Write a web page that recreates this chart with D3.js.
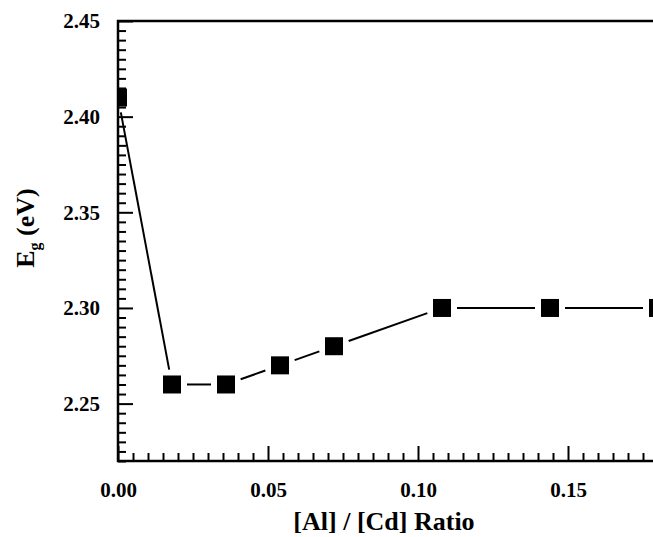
<!DOCTYPE html>
<html>
<head>
<meta charset="utf-8">
<script src="https://cdn.jsdelivr.net/npm/d3@7"></script>
<style>
  body { margin: 0; background: #fff; }
  svg { display: block; }
  svg text { font-family: "Liberation Serif", "Times New Roman", Times, serif; }
</style>
</head>
<body>
<div id="chart"></div>
<script>
// [Al]/[Cd] ratio vs band gap
const ratio = [0, 0.018, 0.036, 0.054, 0.072, 0.108, 0.144, 0.18];
const eg = [2.41, 2.26, 2.26, 2.27, 2.28, 2.30, 2.30, 2.30];

const xMajor = [0, 0.05, 0.10, 0.15];
const yMajor = [2.25, 2.30, 2.35, 2.40, 2.45];

const width = 653;
const height = 537;

const svg = d3.select("#chart").append("svg")
  .attr("width", width)
  .attr("height", height);

const x = d3.scaleLinear().domain([0, 0.2]).range([118, 718]);
const y = d3.scaleLinear().domain([2.22, 2.45]).range([461, 21]);

// minor ticks every 0.005
const xMinor = d3.range(0, 41).map(i => +(i * 0.005).toFixed(3))
  .filter(v => !xMajor.some(m => Math.abs(m - v) < 1e-9) && v < 0.178);
const yMinor = d3.range(0, 47).map(i => +(2.22 + i * 0.005).toFixed(3))
  .filter(v => v <= 2.45 && !yMajor.some(m => Math.abs(m - v) < 1e-9));

// clip to plot area
svg.append("defs").append("clipPath").attr("id", "plot")
  .append("rect").attr("x", 118).attr("y", 21).attr("width", 600).attr("height", 440);

// minor ticks
svg.append("g")
  .attr("transform", `translate(0,${y(2.22)})`)
  .call(d3.axisBottom(x).tickValues(xMinor).tickSize(-8).tickFormat(""))
  .call(g => g.select(".domain").remove())
  .call(g => g.selectAll("line").attr("stroke-width", 2));

svg.append("g")
  .attr("transform", `translate(${x(0)},0)`)
  .call(d3.axisLeft(y).tickValues(yMinor).tickSize(-8).tickFormat(""))
  .call(g => g.select(".domain").remove())
  .call(g => g.selectAll("line").attr("stroke-width", 2));

// major ticks + labels
svg.append("g")
  .attr("transform", `translate(0,${y(2.22)})`)
  .call(d3.axisBottom(x).tickValues(xMajor).tickSize(-15).tickPadding(21).tickFormat(d3.format(".2f")))
  .call(g => g.select(".domain").remove())
  .call(g => g.selectAll("line").attr("stroke-width", 2))
  .call(g => g.selectAll("text")
    .attr("font-size", 21).attr("font-weight", "bold").attr("fill", "#000"));

svg.append("g")
  .attr("transform", `translate(${x(0)},0)`)
  .call(d3.axisLeft(y).tickValues(yMajor).tickSize(-15).tickPadding(18).tickFormat(d3.format(".2f")))
  .call(g => g.select(".domain").remove())
  .call(g => g.selectAll("line").attr("stroke-width", 2))
  .call(g => g.selectAll("text")
    .attr("font-size", 21).attr("font-weight", "bold").attr("fill", "#000"));

// frame
svg.append("rect")
  .attr("x", x(0)).attr("y", y(2.45))
  .attr("width", x(0.2) - x(0)).attr("height", y(2.22) - y(2.45))
  .attr("fill", "none").attr("stroke", "#000").attr("stroke-width", 2.5);

// data: segments stop short of each marker
const pts = ratio.map((r, i) => [x(r), y(eg[i])]);
const half = 9;
const gap = 6;
const plot = svg.append("g").attr("clip-path", "url(#plot)");

d3.pairs(pts).forEach(([p0, p1]) => {
  const dx = p1[0] - p0[0], dy = p1[1] - p0[1];
  const L = Math.hypot(dx, dy);
  const ux = dx / L, uy = dy / L;
  const trim = half / Math.max(Math.abs(ux), Math.abs(uy)) + gap;
  plot.append("line")
    .attr("x1", p0[0] + ux * trim).attr("y1", p0[1] + uy * trim)
    .attr("x2", p1[0] - ux * trim).attr("y2", p1[1] - uy * trim)
    .attr("stroke", "#000").attr("stroke-width", 2);
});

plot.selectAll("rect.pt")
  .data(pts)
  .enter()
  .append("rect")
  .attr("class", "pt")
  .attr("x", d => d[0] - half)
  .attr("y", d => d[1] - half)
  .attr("width", half * 2)
  .attr("height", half * 2)
  .attr("fill", "#000");

// axis titles
svg.append("text")
  .attr("x", 384).attr("y", 530)
  .attr("text-anchor", "middle")
  .attr("font-size", 26).attr("font-weight", "bold")
  .text("[Al] / [Cd] Ratio");

const yt = svg.append("text")
  .attr("transform", "translate(34,228) rotate(-90)")
  .attr("text-anchor", "middle")
  .attr("font-size", 26).attr("font-weight", "bold");
yt.append("tspan").text("E");
yt.append("tspan").attr("font-size", 16).attr("dy", 6).text("g");
yt.append("tspan").attr("dy", -6).text(" (eV)");
</script>
</body>
</html>
